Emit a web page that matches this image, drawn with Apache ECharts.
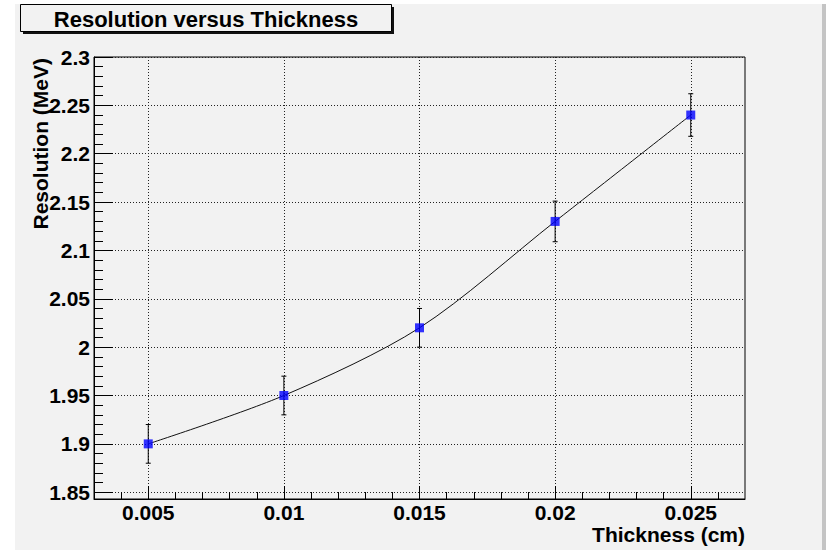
<!DOCTYPE html>
<html>
<head>
<meta charset="utf-8">
<title>Resolution versus Thickness</title>
<script src="https://cdn.jsdelivr.net/npm/echarts@6/dist/echarts.min.js"></script>
<style>
  html, body { margin: 0; padding: 0; background: #fff; }
  #chart { width: 827px; height: 550px; }
</style>
</head>
<body>
<div id="chart"></div>
<script>
// data
const thickness = [0.005, 0.01, 0.015, 0.02, 0.025];
const resolution = [1.9, 1.95, 2.02, 2.13, 2.24];
const resolutionErr = [0.02, 0.02, 0.02, 0.021, 0.022];

// axis ticks
const xTicks = [0.005, 0.01, 0.015, 0.02, 0.025];
const yTicks = [1.85, 1.9, 1.95, 2, 2.05, 2.1, 2.15, 2.2, 2.25, 2.3];
const xMinorTicks = [];
for (let i = 4; i <= 26; i++) xMinorTicks.push(i / 1000);
const yMinorTicks = [];
for (let i = 185; i <= 229; i++) yMinorTicks.push(i / 100);

const font = "'Liberation Sans', Arial, Helvetica, sans-serif";
const xMin = 0.003, xMax = 0.027;
const yMin = 1.843, yMax = 2.3;

const points = thickness.map((x, i) => [x, resolution[i]]);
const errPoints = thickness.map((x, i) => [x, resolution[i], resolutionErr[i]]);

const chart = echarts.init(document.getElementById('chart'), null, { renderer: 'svg' });

const axisText = { color: '#000', fontSize: 21, fontWeight: 'bold', fontFamily: font };

const option = {
  animation: false,
  backgroundColor: 'transparent',
  grid: {
    left: 94, right: 82, top: 57, bottom: 51,
    show: true, borderColor: '#000', borderWidth: 1
  },
  xAxis: [
    {
      type: 'value', min: xMin, max: xMax, position: 'bottom',
      axisLine: { onZero: false, lineStyle: { color: '#000', width: 1 } },
      axisTick: { inside: true, length: 13, customValues: xTicks, lineStyle: { color: '#000' } },
      axisLabel: Object.assign({ customValues: xTicks, margin: 3 }, axisText),
      splitLine: { show: true, lineStyle: { color: '#222', width: 1, type: [1, 2] } }
    },
    {
      // minor ticks
      type: 'value', min: xMin, max: xMax, position: 'bottom',
      axisLine: { show: false, onZero: false },
      axisTick: { inside: true, length: 7, customValues: xMinorTicks, lineStyle: { color: '#000', width: 1 } },
      axisLabel: { show: false },
      splitLine: { show: false }
    }
  ],
  yAxis: [
    {
      type: 'value', min: yMin, max: yMax, position: 'left', splitNumber: 9,
      axisLine: { onZero: false, lineStyle: { color: '#000', width: 1 } },
      axisTick: { inside: true, length: 19, customValues: yTicks, lineStyle: { color: '#000' } },
      axisLabel: Object.assign({ customValues: yTicks, margin: 4 }, axisText),
      splitLine: { show: true, lineStyle: { color: '#222', width: 1, type: [1, 2] } }
    },
    {
      // minor ticks
      type: 'value', min: yMin, max: yMax, position: 'left',
      axisLine: { show: false, onZero: false },
      axisTick: { inside: true, length: 9, customValues: yMinorTicks, lineStyle: { color: '#000', width: 1 } },
      axisLabel: { show: false },
      splitLine: { show: false }
    }
  ],
  series: [
    {
      type: 'line', xAxisIndex: 0, yAxisIndex: 0,
      data: points, smooth: 0.3, showSymbol: false,
      lineStyle: { color: '#111', width: 1 }, z: 2
    },
    {
      type: 'custom', xAxisIndex: 0, yAxisIndex: 0,
      data: errPoints,
      encode: { x: 0, y: 1 },
      renderItem: function (params, api) {
        const x = api.value(0), y = api.value(1), e = api.value(2);
        const top = api.coord([x, y + e]);
        const bot = api.coord([x, y - e]);
        const cap = 2.5;
        const st = { stroke: '#000', lineWidth: 1 };
        return {
          type: 'group',
          children: [
            { type: 'line', shape: { x1: top[0], y1: top[1], x2: bot[0], y2: bot[1] }, style: st },
            { type: 'line', shape: { x1: top[0] - cap, y1: top[1], x2: top[0] + cap, y2: top[1] }, style: st },
            { type: 'line', shape: { x1: bot[0] - cap, y1: bot[1], x2: bot[0] + cap, y2: bot[1] }, style: st }
          ]
        };
      },
      z: 3
    },
    {
      type: 'scatter', xAxisIndex: 0, yAxisIndex: 0,
      data: points, symbol: 'rect', symbolSize: 9,
      itemStyle: { color: '#0000ff' }, z: 4
    }
  ],
  graphic: [
    // canvas panel
    { type: 'rect', z: -100, silent: true, shape: { x: 15, y: 4, width: 808, height: 546 }, style: { fill: '#f2f2f2' } },
    { type: 'rect', z: -99, silent: true, shape: { x: 822, y: 4, width: 4, height: 546 }, style: { fill: '#c4c4c4' } },
    // title box with shadow
    { type: 'rect', z: 10, shape: { x: 23, y: 7, width: 371, height: 27 }, style: { fill: '#111' } },
    { type: 'rect', z: 11, shape: { x: 20.5, y: 4.5, width: 371, height: 27 }, style: { fill: '#f2f2f2', stroke: '#000', lineWidth: 1 } },
    {
      type: 'text', z: 12, x: 206, y: 19,
      style: { text: 'Resolution versus Thickness', fill: '#000', fontSize: 22, fontWeight: 'bold', fontFamily: font, align: 'center', verticalAlign: 'middle' }
    },
    {
      type: 'text', z: 12, x: 745, y: 534,
      style: { text: 'Thickness (cm)', fill: '#000', fontSize: 21, fontWeight: 'bold', fontFamily: font, align: 'right', verticalAlign: 'middle' }
    },
    {
      type: 'text', z: 12, x: 40.5, y: 58, rotation: Math.PI / 2,
      style: { text: 'Resolution (MeV)', fill: '#000', fontSize: 21, fontWeight: 'bold', fontFamily: font, align: 'right', verticalAlign: 'middle' }
    }
  ]
};

chart.setOption(option);
</script>
</body>
</html>
